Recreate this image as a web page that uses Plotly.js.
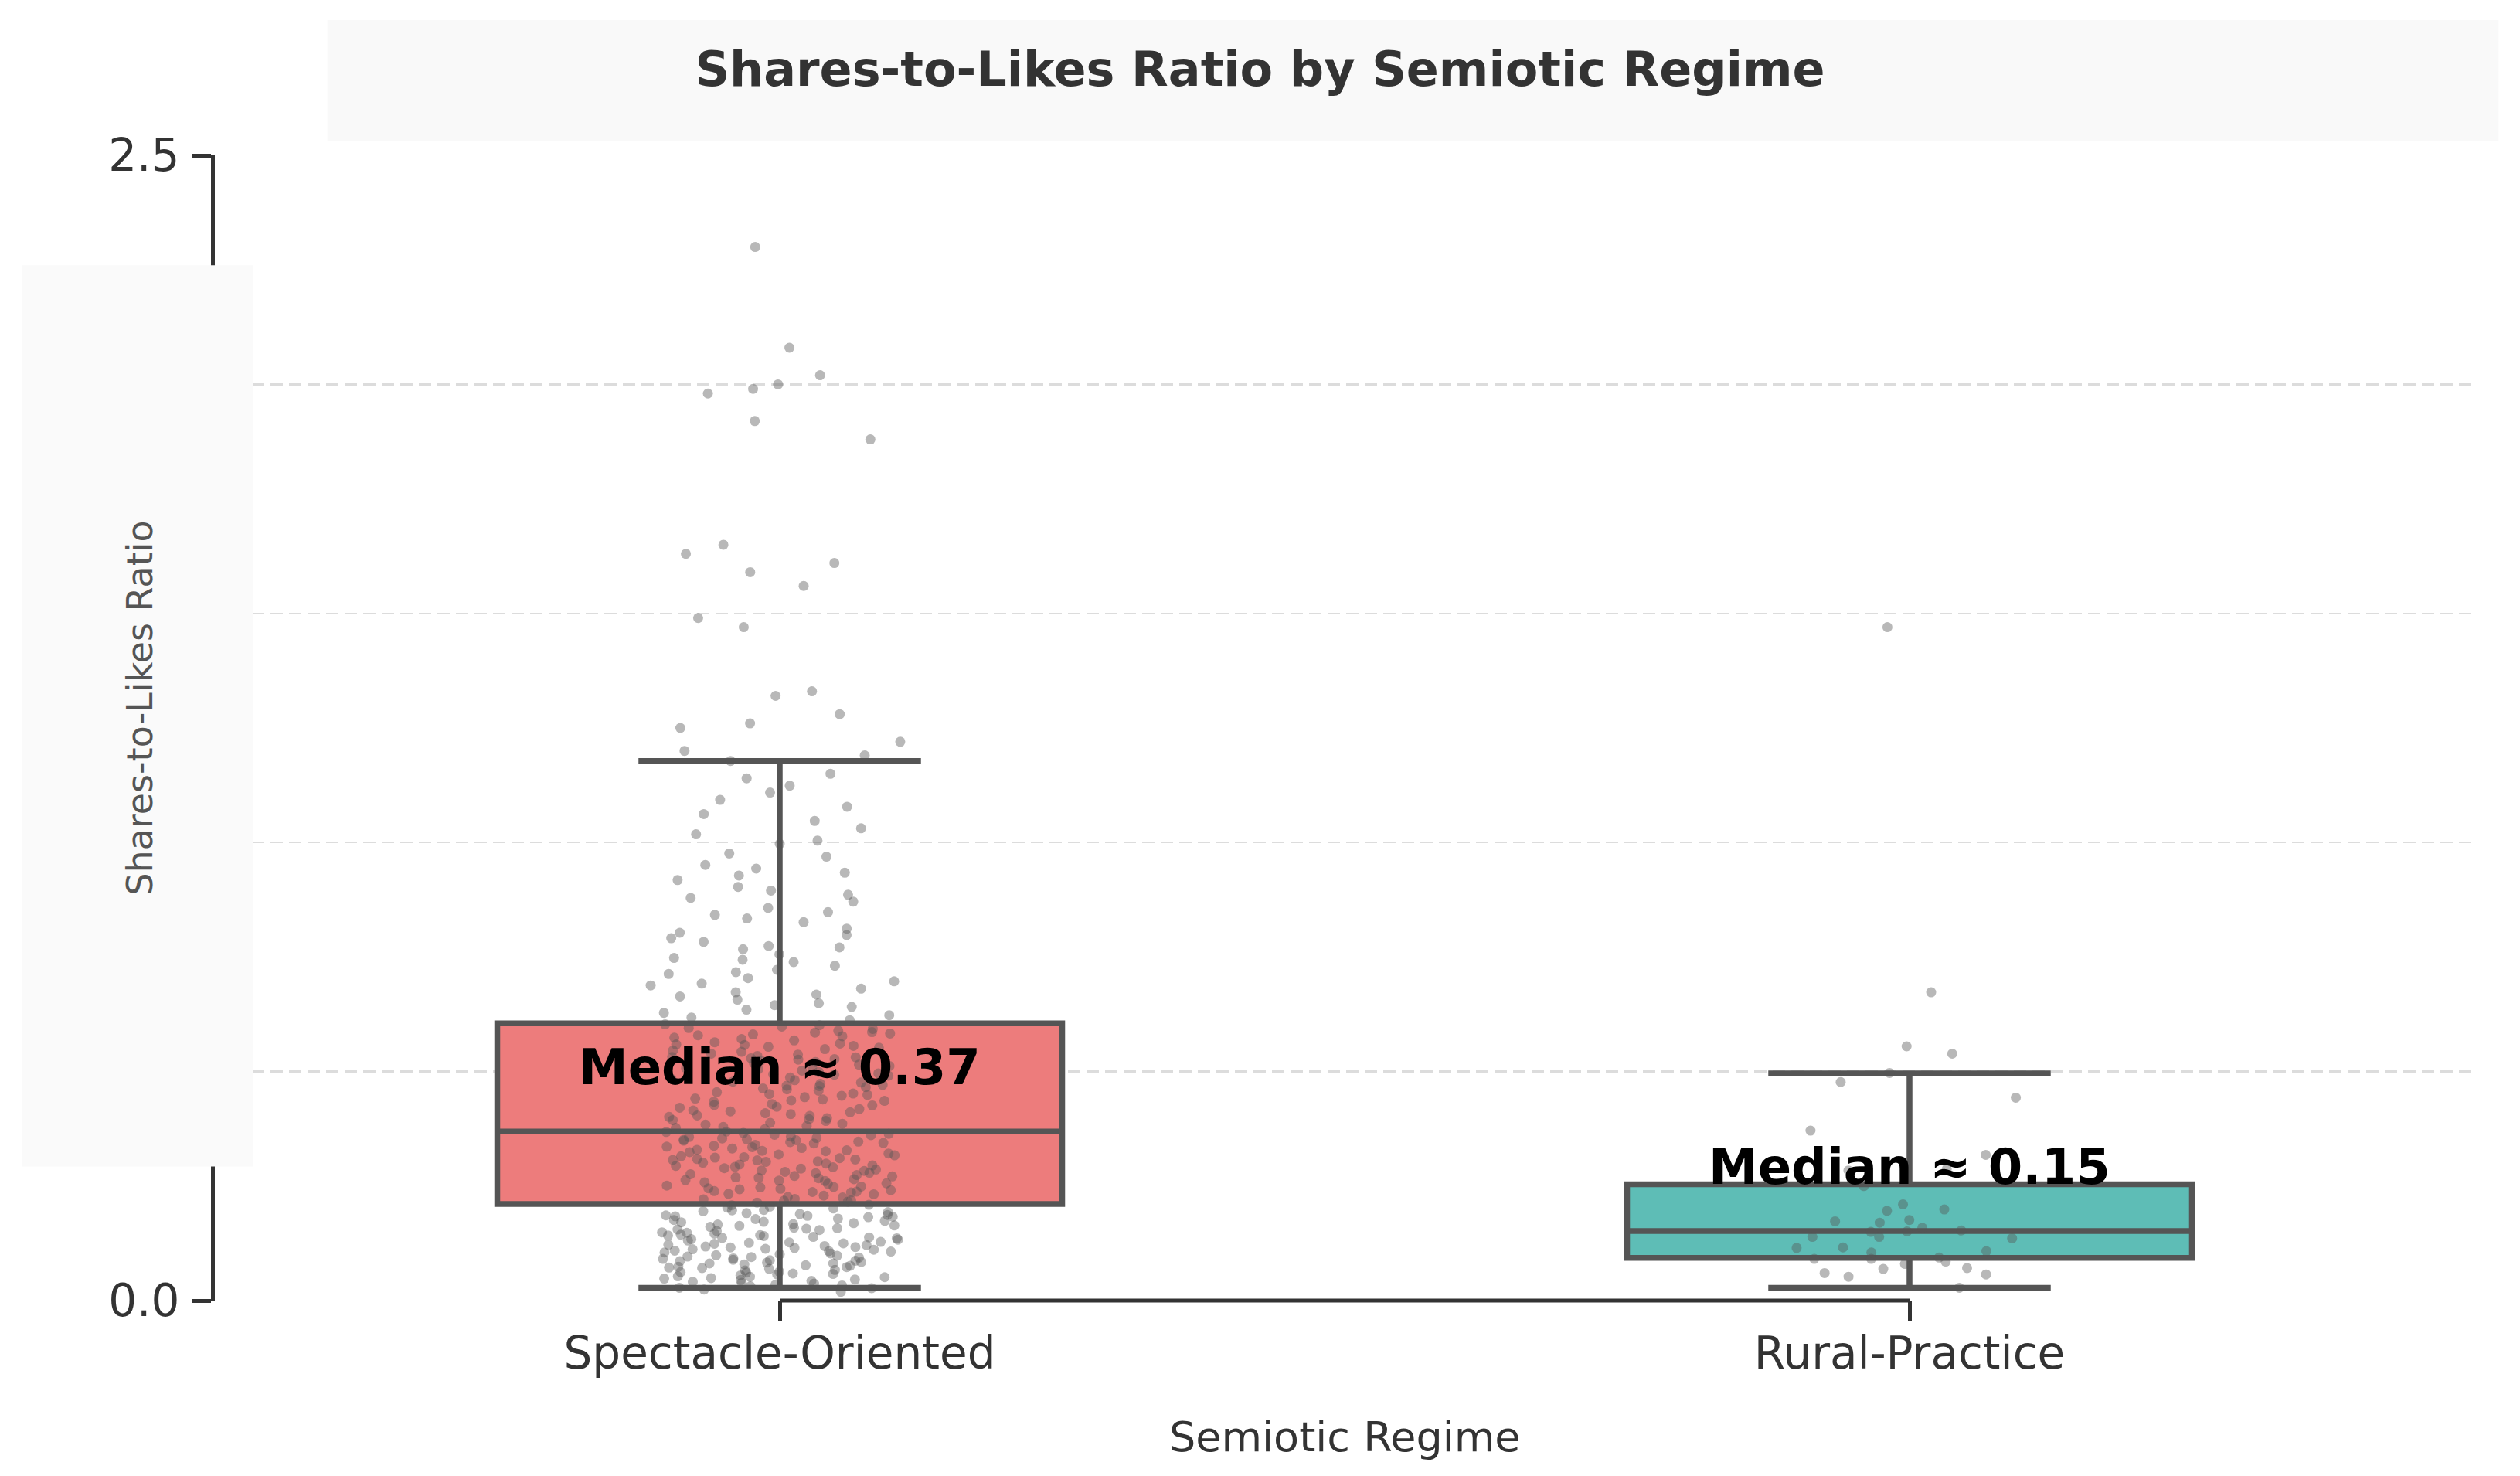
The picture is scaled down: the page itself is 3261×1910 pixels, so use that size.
<!DOCTYPE html>
<html>
<head>
<meta charset="utf-8">
<script src="https://cdn.plot.ly/plotly-3.0.1.min.js"></script>
<style>
  html, body { margin: 0; padding: 0; background: #fff; }
  #chart { width: 3261px; height: 1910px; }
</style>
</head>
<body>
<div id="chart"></div>
<script>
const categories = ['Spectacle-Oriented', 'Rural-Practice']
const boxColors = ['#ed7c7c', '#5ebdb6']

// box statistics
const q1 = [0.211, 0.093]
const medians = [0.369, 0.152]
const q3 = [0.605, 0.254]
const lowerFence = [0.028, 0.028]
const upperFence = [1.178, 0.496]

// individual posts (strip points), split by band so sparse bands get their own jitter spread
const spectacleCore = [
  0.028, 0.041, 0.019, 0.066, 0.053, 0.087, 0.072, 0.095, 0.034, 0.112, 0.058, 0.126, 0.081, 0.143, 0.049, 0.167,
  0.103, 0.138, 0.092, 0.184, 0.061, 0.119, 0.152, 0.077, 0.198, 0.045, 0.131, 0.109, 0.174, 0.069, 0.157, 0.088,
  0.205, 0.124, 0.037, 0.146, 0.098, 0.189, 0.115, 0.063, 0.171, 0.134, 0.083, 0.193, 0.052, 0.161, 0.107, 0.141,
  0.074, 0.179, 0.128, 0.094, 0.208, 0.057, 0.149, 0.117, 0.186, 0.071, 0.136, 0.101, 0.164, 0.043, 0.122, 0.195,
  0.086, 0.154, 0.031, 0.113, 0.176, 0.067, 0.139, 0.201, 0.096, 0.158, 0.079, 0.182, 0.121, 0.048, 0.169, 0.105,
  0.024, 0.039, 0.055, 0.076, 0.091, 0.108, 0.127, 0.144, 0.163, 0.187, 0.203, 0.033, 0.062, 0.084, 0.116, 0.133,
  0.159, 0.178, 0.197, 0.046, 0.073, 0.099, 0.125, 0.148, 0.172, 0.191, 0.027, 0.059, 0.089, 0.118, 0.142, 0.166,
  0.185, 0.209, 0.051, 0.081, 0.111, 0.137, 0.155, 0.183,
  0.214, 0.236, 0.258, 0.281, 0.303, 0.327, 0.349, 0.222, 0.245, 0.267, 0.292, 0.315, 0.338, 0.361, 0.229, 0.251,
  0.274, 0.297, 0.319, 0.343, 0.366, 0.218, 0.241, 0.263, 0.286, 0.309, 0.332, 0.355, 0.226, 0.248, 0.271, 0.294,
  0.312, 0.336, 0.358, 0.232, 0.255, 0.278, 0.301, 0.324, 0.347, 0.369, 0.219, 0.243, 0.265, 0.288, 0.306, 0.329,
  0.352, 0.238, 0.261, 0.284, 0.299, 0.321, 0.344, 0.364, 0.225, 0.249, 0.272, 0.295, 0.317, 0.340, 0.357, 0.233,
  0.256, 0.279, 0.304, 0.326, 0.351, 0.216, 0.239, 0.268, 0.291, 0.313, 0.335, 0.362, 0.244, 0.276, 0.308, 0.346,
  0.221, 0.247, 0.269, 0.289, 0.311, 0.333, 0.354, 0.368, 0.237, 0.262, 0.283, 0.307, 0.328, 0.350,
  0.374, 0.392, 0.413, 0.436, 0.458, 0.481, 0.507, 0.532, 0.556, 0.581, 0.379, 0.401, 0.423, 0.447, 0.469, 0.494,
  0.518, 0.543, 0.568, 0.593, 0.384, 0.407, 0.429, 0.452, 0.476, 0.499, 0.524, 0.549, 0.574, 0.598, 0.388, 0.411,
  0.434, 0.463, 0.487, 0.512, 0.537, 0.561, 0.586, 0.603, 0.396, 0.418, 0.441, 0.466, 0.491, 0.515, 0.539, 0.564,
  0.589, 0.377, 0.403, 0.427, 0.449, 0.473, 0.502, 0.527, 0.552, 0.577, 0.394, 0.421, 0.444, 0.471, 0.496, 0.521,
  0.546, 0.571, 0.595, 0.386, 0.415, 0.439, 0.461, 0.484, 0.509, 0.534, 0.559, 0.583, 0.398, 0.455, 0.529, 0.601,
  0.381, 0.404, 0.426, 0.451, 0.478, 0.505, 0.531, 0.558, 0.585, 0.409, 0.437, 0.468, 0.493, 0.526, 0.554, 0.579
]
const spectacleUpper = [
  0.612, 0.628, 0.641, 0.657, 0.673, 0.688, 0.704, 0.722, 0.739, 0.756, 0.774, 0.791, 0.812, 0.834, 0.857, 0.879,
  0.903, 0.928, 0.951, 0.976, 1.004, 1.031, 1.062, 1.093, 1.124, 0.618, 0.635, 0.649, 0.664, 0.681, 0.697, 0.713,
  0.731, 0.748, 0.767, 0.783, 0.803, 0.826, 0.848, 0.871, 0.895, 0.918, 0.943, 0.969, 0.997, 1.018, 1.047, 1.078,
  1.109, 0.623, 0.645, 0.668, 0.692, 0.717, 0.744, 0.771, 0.798, 0.842, 0.886, 0.934,
  1.14, 1.15, 1.178
]
const spectacleTail = [
  1.19, 1.20, 1.22, 1.25, 1.26, 1.28, 1.32, 1.33, 1.47, 1.49, 1.56, 1.59, 1.61, 1.63, 1.65,
  1.88, 1.92, 1.98, 1.99, 2.00, 2.02, 2.08, 2.30
]
const ruralCore = [
  0.287, 0.284, 0.250, 0.210, 0.196, 0.199, 0.176, 0.173, 0.170, 0.159, 0.153, 0.151, 0.150, 0.139, 0.139, 0.136,
  0.116, 0.115, 0.108, 0.105, 0.094, 0.091, 0.091, 0.085, 0.080, 0.071, 0.069, 0.060, 0.057, 0.052, 0.028
]
const ruralTail = [0.673, 0.555, 0.539, 0.497, 0.477, 0.443, 0.371, 0.318, 1.47]
const pointGroups = [[spectacleCore, spectacleUpper, spectacleTail], [ruralCore, ruralTail]]
// strip spread per band (sparser bands need a larger jitter in plotly)
const groupJitter = [[0.42, 0.5, 0.58], [0.46, 0.55]]

const traces = []
categories.forEach((cat, i) => {
  traces.push({
    type: 'box',
    x: [cat],
    q1: [q1[i]],
    median: [medians[i]],
    q3: [q3[i]],
    lowerfence: [lowerFence[i]],
    upperfence: [upperFence[i]],
    boxpoints: false,
    width: 0.5,
    whiskerwidth: 0.5,
    fillcolor: boxColors[i],
    line: { color: '#555555', width: 7.5 },
    hoverinfo: 'skip'
  })
})
categories.forEach((cat, i) => {
  pointGroups[i].forEach((vals, g) => {
    traces.push({
      type: 'box',
      x: vals.map(() => cat),
      y: vals,
      boxpoints: 'all',
      jitter: groupJitter[i][g],
      pointpos: 0,
      width: 0.5,
      fillcolor: 'rgba(0,0,0,0)',
      line: { color: 'rgba(0,0,0,0)', width: 0 },
      marker: { color: 'rgba(85,85,85,0.42)', size: 13, line: { width: 0 } },
      hoverinfo: 'skip'
    })
  })
})

const medianNotes = categories.map((cat, i) => ({
  x: cat,
  y: medians[i] + 0.14,
  xref: 'x',
  yref: 'y',
  text: 'Median ≈ ' + medians[i].toFixed(2),
  showarrow: false,
  yanchor: 'middle',
  font: { family: 'DejaVu Sans', size: 64, color: '#000', weight: 'bold' }
}))

const layout = {
  width: 3261,
  height: 1910,
  margin: { l: 278, r: 59, t: 201, b: 227 },
  paper_bgcolor: '#ffffff',
  plot_bgcolor: '#ffffff',
  font: { family: 'DejaVu Sans', color: '#333' },
  showlegend: false,
  boxmode: 'overlay',
  title: {
    text: 'Shares-to-Likes Ratio by Semiotic Regime',
    font: { family: 'DejaVu Sans', size: 62, color: '#333', weight: 'bold' },
    x: 0.5,
    xref: 'container',
    xanchor: 'center',
    y: 0.953,
    yref: 'container',
    yanchor: 'middle'
  },
  xaxis: {
    type: 'category',
    categoryorder: 'array',
    categoryarray: categories,
    range: [-0.5, 1.5],
    showgrid: false,
    showline: false,
    zeroline: false,
    ticks: 'outside',
    ticklen: 25,
    tickwidth: 5,
    tickcolor: '#333',
    ticklabelstandoff: -8,
    tickfont: { size: 58, color: '#333' }
  },
  yaxis: {
    range: [0, 2.5],
    tickvals: [0, 0.5, 1, 1.5, 2, 2.5],
    ticktext: ['0.0', '0.5', '1.0', '1.5', '2.0', '2.5'],
    showline: true,
    linecolor: '#333',
    linewidth: 5,
    ticks: 'outside',
    ticklen: 25,
    tickwidth: 5,
    tickcolor: '#333',
    ticklabelstandoff: 4,
    tickfont: { size: 58, color: '#333' },
    showgrid: true,
    gridcolor: '#dcdcdc',
    gridwidth: 2.5,
    griddash: '16px,8px',
    zeroline: false
  },
  shapes: [
    // title backdrop
    { type: 'rect', xref: 'paper', yref: 'paper', x0: 0.0498, x1: 1.0107, y0: 1.0128, y1: 1.118,
      fillcolor: '#f9f9f9', line: { width: 0 }, layer: 'below' },
    // y title backdrop (hides middle ticks)
    { type: 'rect', xref: 'paper', yref: 'paper', x0: -0.0853, x1: 0.017, y0: 0.117, y1: 0.904,
      fillcolor: '#fafafa', line: { width: 0 }, layer: 'above' },
    // trimmed x spine between first and last category
    { type: 'line', xref: 'x', yref: 'paper', x0: categories[0], x1: categories[categories.length - 1], y0: 0, y1: 0,
      line: { color: '#333', width: 5 }, layer: 'above' }
  ],
  annotations: [
    { text: 'Semiotic Regime', xref: 'paper', yref: 'paper', x: 0.5, y: -0.119, showarrow: false,
      yanchor: 'middle', font: { size: 54, color: '#333' } },
    { text: 'Shares-to-Likes Ratio', xref: 'paper', yref: 'paper', x: -0.0333, y: 0.5175, showarrow: false,
      textangle: -90, xanchor: 'center', yanchor: 'middle', font: { size: 46, color: '#555' } }
  ].concat(medianNotes)
}

Plotly.newPlot('chart', traces, layout, { displayModeBar: false, staticPlot: true })
</script>
</body>
</html>
